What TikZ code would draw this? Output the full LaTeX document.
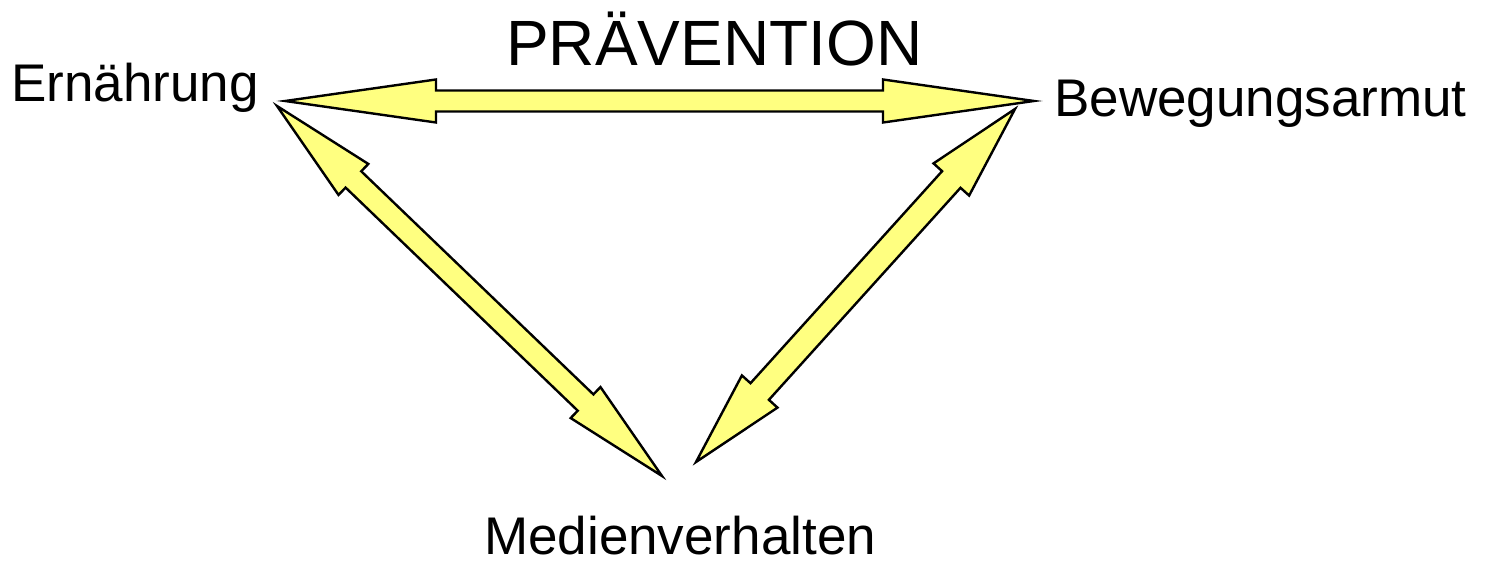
\documentclass[tikz,border=0pt]{standalone}
\usepackage{fontspec}
\setmainfont{Liberation Sans}
\usepackage{tikz}
\usetikzlibrary{calc}
\definecolor{ArrowYellow}{RGB}{255,255,128}

% double block arrow: from, to, head length, head half width, shaft half width
\newcommand{\blockarrow}[5]{%
  \filldraw[arrowbody] (#1)
    -- ($(#1)!#3!(#2)!#4!90:(#2)$)
    -- ($(#1)!#3!(#2)!#5!90:(#2)$)
    -- ($(#2)!#3!(#1)!#5!-90:(#1)$)
    -- ($(#2)!#3!(#1)!#4!-90:(#1)$)
    -- (#2)
    -- ($(#2)!#3!(#1)!#4!90:(#1)$)
    -- ($(#2)!#3!(#1)!#5!90:(#1)$)
    -- ($(#1)!#3!(#2)!#5!-90:(#2)$)
    -- ($(#1)!#3!(#2)!#4!-90:(#2)$)
    -- cycle;}

\begin{document}
\begin{tikzpicture}[
  x=1pt, y=-1pt,
  topic/.style={
    anchor=base west,
    inner sep=0pt,
    font=\fontsize{53}{58}\selectfont
  },
  headline/.style={
    anchor=base west,
    inner sep=0pt,
    font=\fontsize{64}{70}\selectfont
  },
  arrowbody/.style={fill=ArrowYellow, draw=black, line width=2.4pt, line join=miter}
]
\useasboundingbox (0,0) rectangle (1485,561);

\node[headline] (title) at (506,66) {PRÄVENTION};
\node[topic] (food) at (11,102) {Ernährung};
\node[topic] (motion) at (1054,117) {Bewegungsarmut};
\node[topic] (media) at (484,554) {Medienverhalten};

\coordinate (foodA) at (285,101);
\coordinate (motionA) at (1034,101);
\coordinate (foodB) at (277,106);
\coordinate (mediaB) at (662,476);
\coordinate (motionC) at (1015,109);
\coordinate (mediaC) at (696,462);

\blockarrow{foodA}{motionA}{151pt}{21.5pt}{10.5pt}
\blockarrow{foodB}{mediaB}{106pt}{21.5pt}{11.3pt}
\blockarrow{motionC}{mediaC}{95pt}{24pt}{12.4pt}
\end{tikzpicture}
\end{document}
